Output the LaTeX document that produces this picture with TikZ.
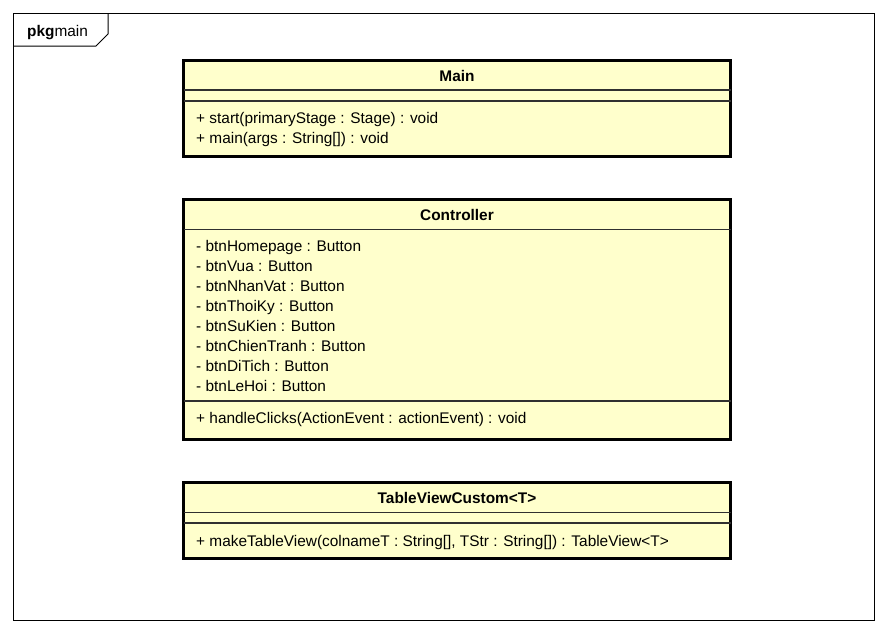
\documentclass[tikz,border=0pt]{standalone}
\usepackage{fontspec}
\setmainfont{Liberation Sans}
\definecolor{classfill}{HTML}{FFFFCC}
\definecolor{divcol}{HTML}{303030}
\begin{document}
\begin{tikzpicture}[x=1pt,y=-1pt,
  classbox/.style={draw=black,line width=3pt,fill=classfill,inner sep=0pt,outer sep=0pt},
  divline/.style={draw=divcol,line width=1.2pt},
  member/.style={anchor=west,inner sep=0pt,text height=11pt,text depth=0pt,font=\fontsize{15.4}{18}\selectfont},
  classtitle/.style={anchor=center,inner sep=0pt,text height=11pt,text depth=0pt,font=\fontsize{15.4}{18}\selectfont\bfseries},
  frameline/.style={draw=black,line width=1pt}]
\useasboundingbox (0,0) rectangle (888,633);
\fill[white] (0,0) rectangle (888,633);
% package frame
\node[frameline,minimum width=861pt,minimum height=607pt,inner sep=0pt] (pkg) at (444,317) {};
\coordinate (tabA) at (13.5,46);
\coordinate (tabB) at (96,46);
\coordinate (tabC) at (108,34);
\coordinate (tabD) at (108,13.5);
\draw[frameline] (tabA) -- (tabB) -- (tabC) -- (tabD);
\node[anchor=west,inner sep=0pt,text height=11pt,text depth=0pt,font=\fontsize{15.4}{18}\selectfont] (pkgname) at (27,30.5) {\textbf{pkg}main};
% Main
\node[classbox,minimum width=547pt,minimum height=96pt] (main) at (457,108.5) {};
\draw[divline] (main.west |- 0,90) -- (main.east |- 0,90);
\draw[divline] (main.west |- 0,101) -- (main.east |- 0,101);
\node[classtitle] (mainT) at (457,75.5) {Main};
\node[member] (m1) at (196,118) {+ start(primaryStage : Stage) : void};
\node[member] (m2) at (196,138) {+ main(args : String[]) : void};
% Controller
\node[classbox,minimum width=547pt,minimum height=239.5pt] (ctrl) at (457,319.25) {};
\draw[divline] (ctrl.west |- 0,229.5) -- (ctrl.east |- 0,229.5);
\draw[divline] (ctrl.west |- 0,401) -- (ctrl.east |- 0,401);
\node[classtitle] (ctrlT) at (457,214.5) {Controller};
\node[member] (c1) at (196,245.5) {- btnHomepage : Button};
\node[member] (c2) at (196,265.6) {- btnVua : Button};
\node[member] (c3) at (196,285.7) {- btnNhanVat : Button};
\node[member] (c4) at (196,305.8) {- btnThoiKy : Button};
\node[member] (c5) at (196,325.9) {- btnSuKien : Button};
\node[member] (c6) at (196,346.0) {- btnChienTranh : Button};
\node[member] (c7) at (196,366.1) {- btnDiTich : Button};
\node[member] (c8) at (196,386.2) {- btnLeHoi : Button};
\node[member] (c9) at (196,417.5) {+ handleClicks(ActionEvent : actionEvent) : void};
% TableViewCustom
\node[classbox,minimum width=547pt,minimum height=76pt] (tvc) at (457,520.5) {};
\draw[divline] (tvc.west |- 0,512.5) -- (tvc.east |- 0,512.5);
\draw[divline] (tvc.west |- 0,523) -- (tvc.east |- 0,523);
\node[classtitle] (tvcT) at (457,497.5) {TableViewCustom<T>};
\node[member] (t1) at (196,540.5) {+ makeTableView(colnameT : String[], TStr : String[]) : TableView<T>};
\end{tikzpicture}
\end{document}
